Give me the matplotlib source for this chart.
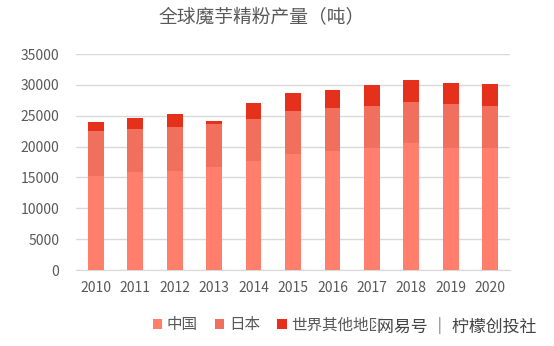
import numpy as np
import matplotlib.pyplot as plt

plt.rcParams['font.family'] = ['Noto Sans CJK SC', 'DejaVu Sans']

years = ['2010', '2011', '2012', '2013', '2014', '2015', '2016', '2017', '2018', '2019', '2020']
china = [15300, 15800, 16100, 16750, 17600, 18850, 19250, 19700, 20500, 19800, 19700]
japan = [7300, 7100, 7100, 6850, 6850, 6850, 7000, 6900, 6800, 7100, 6900]
others = [1400, 1700, 2000, 550, 2650, 2900, 2900, 3300, 3550, 3450, 3500]
series_names = ['中国', '日本', '世界其他地区']
colors = ['#FF7E6C', '#F06F5D', '#E5311B']

fig = plt.figure(figsize=(5.54, 3.46), dpi=100)
ax = fig.add_axes([76 / 554, 1 - 270 / 346, 434 / 554, 216 / 346])

x = np.arange(len(years))
bottom = np.zeros(len(years))
for vals, name, c in zip([china, japan, others], series_names, colors):
    ax.bar(x, vals, width=0.4, bottom=bottom, color=c, label=name, zorder=3)
    bottom += np.array(vals)

ax.set_xlim(-0.5, len(years) - 0.5)
ax.set_ylim(0, 35000)
ax.set_yticks(np.arange(0, 35001, 5000))
ax.set_xticks(x)
ax.set_xticklabels(years)
ax.yaxis.grid(True, color='#D9D9D9', linewidth=1, zorder=0)
for s in ax.spines.values():
    s.set_visible(False)
ax.spines['bottom'].set_visible(True)
ax.spines['bottom'].set_color('#D9D9D9')
ax.tick_params(length=0, labelsize=10, labelcolor='#595959')
ax.tick_params(axis='y', pad=12)
ax.tick_params(axis='x', pad=8)

fig.text(262 / 554, 1 - 18 / 346, '全球魔芋精粉产量（吨）', ha='center', va='center',
         fontsize=13.5, color='#595959')

leg = fig.legend(loc='center left', bbox_to_anchor=(139 / 554, 1 - 325 / 346), ncol=3,
                 frameon=False, fontsize=11.2, handlelength=0.6, handleheight=0.6,
                 handletextpad=0.3, columnspacing=1.1, labelcolor='#595959')

# watermark sits on top of the legend's last label
fig.text(536 / 554, 1 - 327 / 346, '网易号 ｜ 柠檬创投社', ha='right', va='center',
         fontsize=12.2, color='#444444', zorder=10,
         bbox=dict(facecolor='white', edgecolor='none', pad=0.5, alpha=0.85))

fig.savefig('out.png', dpi=100)
